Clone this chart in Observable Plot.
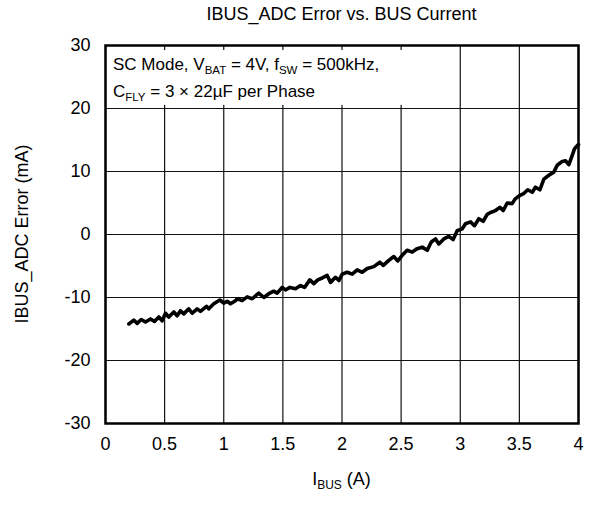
<!DOCTYPE html>
<html>
<head>
<meta charset="utf-8">
<script src="https://cdn.jsdelivr.net/npm/d3@7"></script>
<script src="https://cdn.jsdelivr.net/npm/@observablehq/plot@0.6"></script>
<style>
  html, body { margin: 0; padding: 0; background: #fff; }
</style>
</head>
<body>
<div id="chart"></div>
<script>
// Bus current (A) and IBUS ADC error (mA)
const ibus = [
  0.197, 0.239, 0.268, 0.302, 0.338, 0.381, 0.414, 0.451, 0.479, 0.507,
  0.535, 0.578, 0.606, 0.634, 0.662, 0.704, 0.733, 0.775, 0.803, 0.854,
  0.873, 0.916, 0.967, 1.0, 1.029, 1.057, 1.099,
  1.114, 1.156, 1.198, 1.241, 1.296, 1.339, 1.381, 1.423, 1.452, 1.494,
  1.522, 1.559, 1.607, 1.649, 1.683, 1.728, 1.762, 1.795, 1.833, 1.875,
  1.903, 1.945, 1.974, 2.002,
  2.044, 2.086, 2.129, 2.171, 2.213, 2.269, 2.320, 2.349, 2.396, 2.438,
  2.472, 2.509, 2.551, 2.594, 2.630, 2.678, 2.721, 2.755, 2.791, 2.819,
  2.861, 2.903, 2.940,
  2.974, 3.017, 3.044, 3.087, 3.120, 3.157, 3.194, 3.228, 3.256, 3.298,
  3.335, 3.363, 3.397, 3.439, 3.467, 3.504, 3.537, 3.571, 3.609, 3.636,
  3.673, 3.707, 3.749, 3.791, 3.820, 3.862, 3.890, 3.918, 3.946, 3.966,
  3.989, 4.0
];
const err = [
  -14.2, -13.6, -14.1, -13.5, -13.9, -13.4, -13.8, -13.1, -13.7, -12.5,
  -13.1, -12.3, -12.9, -12.1, -12.6, -11.8, -12.5, -11.8, -12.2, -11.4,
  -11.8, -11.0, -10.4, -10.9, -10.6, -11.0, -10.5,
  -10.2, -10.5, -9.9, -10.2, -9.3, -10.0, -9.4, -9.0, -9.3, -8.4,
  -8.8, -8.4, -8.6, -8.1, -8.4, -7.2, -7.8, -7.2, -6.9, -6.5,
  -7.6, -6.8, -7.3, -6.3,
  -6.0, -6.3, -5.6, -6.0, -5.4, -5.1, -4.4, -4.9, -4.1, -3.5,
  -4.2, -3.3, -2.5, -2.8, -2.3, -2.0, -2.5, -1.2, -0.7, -1.5,
  -0.7, -0.3, -0.8,
  0.6, 0.9, 1.7, 2.0, 1.4, 2.5, 2.1, 3.2, 3.5, 3.8,
  4.3, 3.8, 5.0, 4.9, 5.7, 6.2, 6.5, 7.1, 6.7, 7.5,
  7.1, 8.8, 9.4, 9.9, 11.0, 11.6, 11.7, 11.1, 12.5, 13.6,
  14.1, 14.3
];

const xTicks = [0, 0.5, 1, 1.5, 2, 2.5, 3, 3.5, 4];
const yTicks = [-30, -20, -10, 0, 10, 20, 30];

const titleText = "IBUS_ADC Error vs. BUS Current";
const yLabel = "IBUS_ADC Error (mA)";

const rows = ibus.map((x, i) => ({x, y: err[i]}));
const font = "'Liberation Sans', Arial, Helvetica, sans-serif";

const chart = Plot.plot({
  width: 590,
  height: 505,
  marginLeft: 105,
  marginRight: 12,
  marginTop: 45,
  marginBottom: 82,
  x: {domain: [0, 4], label: null},
  y: {domain: [-30, 30], label: null},
  style: {fontFamily: font, fontSize: "18px", color: "black", background: "white", overflow: "visible"},
  marks: [
    Plot.ruleX(xTicks, {stroke: "#111", strokeWidth: 1.2}),
    Plot.ruleY(yTicks, {stroke: "#111", strokeWidth: 1.2}),
    // white panel behind the test-condition note
    Plot.rect([{x1: 0, x2: 2.8, y1: 20.5, y2: 29.2}], {x1: "x1", x2: "x2", y1: "y1", y2: "y2", fill: "white"}),
    Plot.line(rows, {x: "x", y: "y", stroke: "black", strokeWidth: 3.6, strokeLinejoin: "round", strokeLinecap: "round"}),
    Plot.frame({stroke: "black", strokeWidth: 2.5}),
    Plot.axisX({ticks: xTicks, tickSize: 0, tickPadding: 14, tickFormat: d => String(d), fontSize: 18, label: null}),
    Plot.axisY({ticks: yTicks, tickSize: 0, tickPadding: 15, tickFormat: d => String(d), fontSize: 18, label: null})
  ]
});

document.getElementById("chart").append(chart);

const svg = d3.select(chart);
const sx = chart.scale("x"), sy = chart.scale("y");
const cx = (sx.apply(0) + sx.apply(4)) / 2;
const cy = (sy.apply(-30) + sy.apply(30)) / 2;

function richText(sel, parts, subSize) {
  let prevSub = false;
  for (const [txt, sub] of parts) {
    const t = sel.append("tspan").text(txt);
    if (sub) t.attr("font-size", subSize).attr("dy", 4);
    else if (prevSub) t.attr("dy", -4);
    prevSub = !!sub;
  }
}

const g = svg.append("g").attr("font-family", font).attr("fill", "black");

g.append("text")
  .attr("x", cx).attr("y", 20)
  .attr("text-anchor", "middle").attr("font-size", 18)
  .text(titleText);

g.append("text")
  .attr("transform", `translate(28,${cy}) rotate(-90)`)
  .attr("text-anchor", "middle").attr("font-size", 18)
  .text(yLabel);

const xl = g.append("text")
  .attr("x", cx).attr("y", 485)
  .attr("text-anchor", "middle").attr("font-size", 18);
richText(xl, [["I"], ["BUS", true], [" (A)"]], 12);

const nx = sx.apply(0) + 8;
const l1 = g.append("text").attr("x", nx).attr("y", 70).attr("text-anchor", "start").attr("font-size", 17);
richText(l1, [["SC Mode, V"], ["BAT", true], [" = 4V, f"], ["SW", true], [" = 500kHz,"]], 11.5);
const l2 = g.append("text").attr("x", nx).attr("y", 97).attr("text-anchor", "start").attr("font-size", 17);
richText(l2, [["C"], ["FLY", true], [" = 3 × 22µF per Phase"]], 11.5);
</script>
</body>
</html>
